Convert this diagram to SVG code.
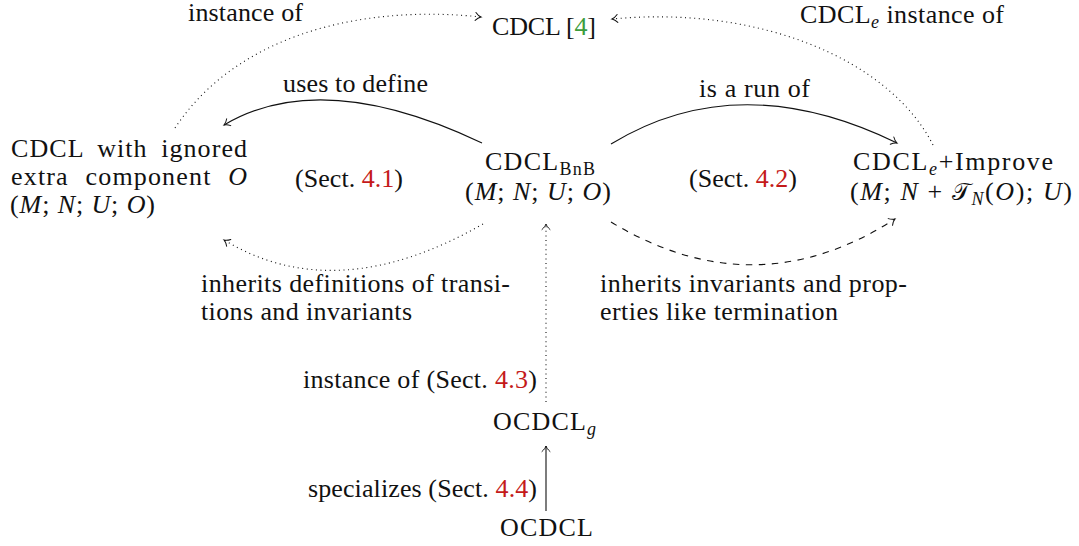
<svg xmlns="http://www.w3.org/2000/svg" width="1079" height="546" viewBox="0 0 1079 546">
<defs>
<style>
text { font-family: "Liberation Serif", "Times New Roman", serif; font-size: 26px; fill: #111; }
.it { font-style: italic; }
.sub { font-size: 18px; }
.red { fill: #c41a1a; }
.green { fill: #3c9c3c; }
.edge { fill: none; stroke: #111; stroke-width: 1.1; }
.dot { stroke-dasharray: 1 3.6; }
.dash { stroke-dasharray: 6.5 6.5; }
.cal { font-family: "DejaVu Sans", "Noto Sans", sans-serif; font-size: 24px; }
</style>
<marker id="to" markerUnits="userSpaceOnUse" orient="auto" markerWidth="8" markerHeight="12" refX="0" refY="0" viewBox="-7 -6 8 12" overflow="visible">
<path d="M-5.5,-4 C-3.5,-1.6 -1.2,-0.4 0,0 C-1.2,0.4 -3.5,1.6 -5.5,4" fill="none" stroke="#111" stroke-width="1" stroke-linecap="round"/>
</marker>
</defs>
<rect width="1079" height="546" fill="#fff"/>

<g id="connectors">
<path id="e-instance-left" class="edge dot" d="M175,128 C240,30 370,5 481,17" marker-end="url(#to)"/>
<path id="e-instance-right" class="edge dot" d="M933,145 C890,60 760,5 612,19" marker-end="url(#to)"/>
<path id="e-uses" class="edge" d="M482,143 Q322,67 224,125" marker-end="url(#to)"/>
<path id="e-run" class="edge" d="M611,144 Q739,66 897,143" marker-end="url(#to)"/>
<path id="e-inherits-def" class="edge dot" d="M483,224 Q336,308 224,240" marker-end="url(#to)"/>
<path id="e-inherits-inv" class="edge dash" d="M611,222 Q755,309 895,219" marker-end="url(#to)"/>
<path id="e-instance-g" class="edge dot" d="M546,402 L546,224" marker-end="url(#to)"/>
<path id="e-specializes" class="edge" d="M546,511 L546,446" marker-end="url(#to)"/>
</g>

<g id="labels">
<text x="188" y="21" textLength="115" lengthAdjust="spacing">instance of</text>
<text x="800" y="23" textLength="204" lengthAdjust="spacing">CDCL<tspan class="sub it" dy="5">e</tspan><tspan dy="-5"> instance of</tspan></text>
<text x="283" y="92" textLength="145" lengthAdjust="spacing">uses to define</text>
<text x="699" y="97" textLength="111" lengthAdjust="spacing">is a run of</text>
<text x="295" y="187" textLength="108" lengthAdjust="spacing">(Sect. <tspan class="red">4.1</tspan>)</text>
<text x="689" y="187" textLength="108" lengthAdjust="spacing">(Sect. <tspan class="red">4.2</tspan>)</text>
<text x="201" y="292" textLength="309" lengthAdjust="spacing">inherits definitions of transi-</text>
<text x="201" y="320" textLength="211" lengthAdjust="spacing">tions and invariants</text>
<text x="600" y="292" textLength="307" lengthAdjust="spacing">inherits invariants and prop-</text>
<text x="600" y="320" textLength="238" lengthAdjust="spacing">erties like termination</text>
<text x="303" y="388" textLength="234" lengthAdjust="spacing">instance of (Sect. <tspan class="red">4.3</tspan>)</text>
<text x="308" y="497" textLength="229" lengthAdjust="spacing">specializes (Sect. <tspan class="red">4.4</tspan>)</text>
</g>

<g id="node-cdcl">
<text x="492" y="35" textLength="104" lengthAdjust="spacing">CDCL [<tspan class="green">4</tspan>]</text>
</g>

<g id="node-cdcl-ignored">
<text x="11" y="157" textLength="236" lengthAdjust="spacing" word-spacing="6">CDCL with ignored</text>
<text x="11" y="185" textLength="236" lengthAdjust="spacing" word-spacing="9">extra component <tspan class="it">O</tspan></text>
<text x="10" y="213" textLength="145" lengthAdjust="spacing">(<tspan class="it">M</tspan>; <tspan class="it">N</tspan>; <tspan class="it">U</tspan>; <tspan class="it">O</tspan>)</text>
</g>

<g id="node-cdcl-bnb">
<text x="485" y="170" textLength="110" lengthAdjust="spacing">CDCL<tspan class="sub" dy="5">BnB</tspan></text>
<text x="465" y="200" textLength="146" lengthAdjust="spacing">(<tspan class="it">M</tspan>; <tspan class="it">N</tspan>; <tspan class="it">U</tspan>; <tspan class="it">O</tspan>)</text>
</g>

<g id="node-cdcle-improve">
<text x="853" y="170" textLength="200" lengthAdjust="spacing">CDCL<tspan class="sub it" dy="5">e</tspan><tspan dy="-5">+Improve</tspan></text>
<text x="850" y="200" textLength="222" lengthAdjust="spacing">(<tspan class="it">M</tspan>; <tspan class="it">N</tspan> + <tspan class="cal">𝒯</tspan><tspan class="sub it" dy="5">N</tspan><tspan dy="-5">(</tspan><tspan class="it">O</tspan>); <tspan class="it">U</tspan>)</text>
</g>

<g id="node-ocdclg">
<text x="493" y="430" textLength="103" lengthAdjust="spacing">OCDCL<tspan class="sub it" dy="5">g</tspan></text>
</g>

<g id="node-ocdcl">
<text x="500" y="536" textLength="93" lengthAdjust="spacing">OCDCL</text>
</g>
</svg>
